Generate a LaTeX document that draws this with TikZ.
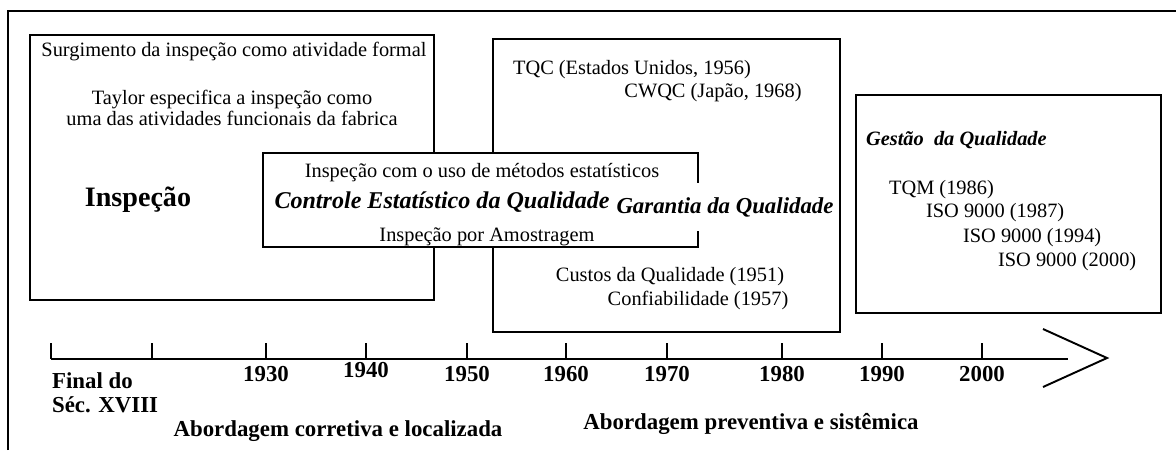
\documentclass[tikz,border=0pt]{standalone}
\usepackage{fontspec}
\setmainfont{Liberation Serif}
\begin{document}
\begin{tikzpicture}[x=0.02cm,y=-0.02cm,line width=1.25pt,line join=miter,
txt/.style={inner sep=0pt,font=\fontsize{11.6}{10.2}\selectfont},
bld/.style={inner sep=0pt,font=\fontsize{13}{13}\selectfont\bfseries},
ttl/.style={inner sep=0pt,font=\fontsize{13.4}{13.4}\selectfont\bfseries\itshape},
bx/.style={draw,fill=white}]
\useasboundingbox (0,0) rectangle (1176,450);
\coordinate (f1) at (8,450); \coordinate (f2) at (8,11); \coordinate (f3) at (1177,11);
\draw (f1) -- (f2) -- (f3);
% caixas
\draw[bx] (30,35) rectangle (434,300);
\draw[bx] (493,39) rectangle (840,332);
\draw[bx] (856,95) rectangle (1161,313);
\draw[bx] (263,153) rectangle (698,247);
% inspecao
\node[txt] (surg) at (234,52) {Surgimento da inspeção como atividade formal};
\node[txt,align=center] (tayl) at (232,108) {Taylor especifica a inspeção como\\uma das atividades funcionais da fabrica};
\node[inner sep=0pt,font=\fontsize{16}{16}\selectfont\bfseries] (insp) at (138,200) {Inspeção};
% controle estatistico
\node[txt] (metd) at (482,173) {Inspeção com o uso de métodos estatísticos};
\node[ttl,font=\fontsize{13.7}{13.7}\selectfont\bfseries\itshape] (ceq) at (442,202) {Controle Estatístico da Qualidade};
\node[txt] (amos) at (487,237) {Inspeção por Amostragem};
% garantia
\node[ttl,font=\fontsize{13}{13}\selectfont\bfseries\itshape,fill=white,inner ysep=8pt] (gar) at (725,207) {Garantia da Qualidade};
\node[txt,anchor=west] (tqc) at (512,70) {TQC (Estados Unidos, 1956)};
\node[txt] (cwqc) at (713,93) {CWQC (Japão, 1968)};
\node[txt] (cust) at (670,277) {Custos da Qualidade (1951)};
\node[txt] (conf) at (698,300) {Confiabilidade (1957)};
% gestao
\node[inner sep=0pt,font=\fontsize{11.6}{11.6}\selectfont\bfseries\itshape,anchor=west] (gest) at (865,140) {Gestão\ \ da Qualidade};
\node[txt,anchor=west] (tqm) at (888,190) {TQM (1986)};
\node[txt,anchor=west] (iso1) at (925,213) {ISO 9000 (1987)};
\node[txt,anchor=west] (iso2) at (962,238) {ISO 9000 (1994)};
\node[txt,anchor=west] (iso3) at (997,262) {ISO 9000 (2000)};
% linha do tempo
\coordinate (a0) at (51,359); \coordinate (a1) at (1068,359);
\draw[line width=1.1pt] (a0) -- (a1);
\coordinate (h1) at (1043,329); \coordinate (h2) at (1107,358); \coordinate (h3) at (1043,387);
\draw[line width=1.1pt] (h1) -- (h2) -- (h3);
\foreach \x [count=\i] in {51,152,266,366,467,566,667,782,882,982}{\draw[line width=1.1pt] (\x,343) coordinate (t\i) -- (\x,359);};
\foreach \x/\a/\h in {266/1930/374,366/1940/370,467/1950/374,566/1960/374,667/1970/374,782/1980/374,882/1990/374,982/2000/374}{\node[bld] (y\a) at (\x,\h) {\a};};
\node[bld,anchor=west] (fin) at (51,381) {Final do};
\node[bld,anchor=west] (sec) at (51,405) {Séc. XVIII};
\node[bld] (corr) at (338,431) {Abordagem corretiva e localizada};
\node[bld] (prev) at (751,424) {Abordagem preventiva e sistêmica};
\end{tikzpicture}
\end{document}
